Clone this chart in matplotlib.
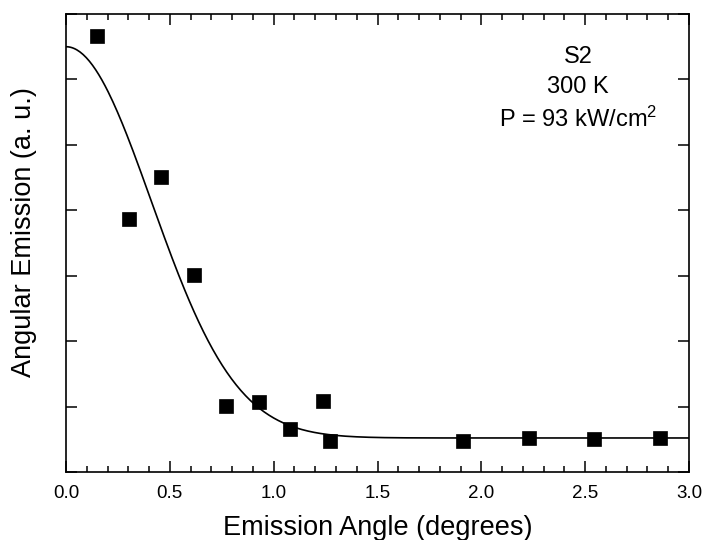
import numpy as np
import matplotlib
matplotlib.use('Agg')
import matplotlib.pyplot as plt
from matplotlib.ticker import MultipleLocator, NullFormatter

plt.rcParams['font.family'] = ['Liberation Sans', 'DejaVu Sans']
plt.rcParams['mathtext.fontset'] = 'custom'
plt.rcParams['mathtext.rm'] = 'Liberation Sans'
plt.rcParams['mathtext.it'] = 'Liberation Sans:italic'

# measured points (angle in degrees, emission in arbitrary units)
angle = [0.148, 0.303, 0.459, 0.616, 0.770, 0.928, 1.078, 1.237, 1.270,
         1.910, 2.229, 2.541, 2.861]
emission = [6.67, 3.87, 4.51, 3.01, 1.01, 1.07, 0.66, 1.08, 0.48,
            0.48, 0.52, 0.50, 0.52]

# gaussian fit: offset, amplitude, width (sigma)
fit_y0 = 0.52
fit_amp = 5.98
fit_sigma = 0.41

labels = ['S2', '300 K', 'P = 93 kW/cm$^2$']

fig = plt.figure(figsize=(7.03, 5.40), dpi=100)
ax = fig.add_axes([66 / 703, 1 - 472 / 540, 623 / 703, 458 / 540])

xf = np.linspace(0, 3, 400)
yf = fit_y0 + fit_amp * np.exp(-xf ** 2 / (2 * fit_sigma ** 2))
ax.plot(xf, yf, color='black', lw=1.2)
ax.plot(angle, emission, 's', color='black', ms=9.6, mew=0.5)

ax.set_xlim(0, 3)
ax.set_ylim(0, 7)
ax.xaxis.set_major_locator(MultipleLocator(0.5))
ax.xaxis.set_minor_locator(MultipleLocator(0.1))
ax.yaxis.set_major_locator(MultipleLocator(1))
ax.yaxis.set_major_formatter(NullFormatter())
ax.tick_params(which='both', direction='in', top=True, right=True, width=1.1,
               labelsize=13.5, pad=9)
ax.tick_params(which='major', length=8)
ax.tick_params(which='minor', length=4)
for s in ax.spines.values():
    s.set_linewidth(1.2)

ax.set_xlabel('Emission Angle (degrees)', fontsize=19.5, labelpad=10)
ax.set_ylabel('Angular Emission (a. u.)', fontsize=19.5)
ax.yaxis.set_label_coords(-0.047, 0.524)

for txt, yb in zip(labels, [6.254, 5.790, 5.28]):
    ax.text(2.465, yb, txt, ha='center', va='baseline', fontsize=17)

fig.savefig('out.png', dpi=100)
